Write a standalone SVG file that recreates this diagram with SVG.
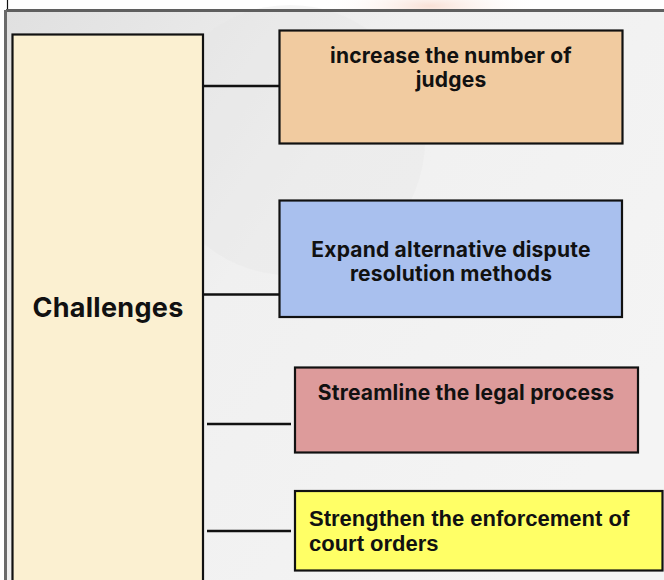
<svg xmlns="http://www.w3.org/2000/svg" width="664" height="580" viewBox="0 0 664 580">
  <defs>
    <linearGradient id="panelShade" x1="0" y1="0" x2="1" y2="0.6">
      <stop offset="0" stop-color="#e0e0e0"/>
      <stop offset="0.45" stop-color="#f0f0f0"/>
      <stop offset="1" stop-color="#f4f4f4"/>
    </linearGradient>
    <radialGradient id="topGlow" cx="0.5" cy="0.5" r="0.5">
      <stop offset="0" stop-color="#f7d9cc" stop-opacity="0.8"/>
      <stop offset="1" stop-color="#ffffff" stop-opacity="0"/>
    </radialGradient>
    <style>
      .box { stroke: #111; stroke-width: 2.2; }
      .link { stroke: #111; stroke-width: 2.5; fill: none; }
      .geo { font-family: Inter, "Noto Sans", "DejaVu Sans", sans-serif; font-weight: 700; fill: #111; text-anchor: middle; font-size: 21px; letter-spacing: 0.2px; }
      .title { font-size: 27px; letter-spacing: 0.3px; }
      .plain { font-family: "Liberation Sans", Arial, sans-serif; font-weight: 700; fill: #111; font-size: 22px; }
    </style>
  </defs>

  <!-- page strip above the panel -->
  <rect x="0" y="0" width="664" height="12" fill="#ffffff"/>
  <ellipse cx="430" cy="6" rx="110" ry="22" fill="url(#topGlow)"/>
  <line x1="7.5" y1="0" x2="7.5" y2="11" stroke="#111" stroke-width="1.2"/>

  <!-- panel -->
  <rect x="6" y="11" width="664" height="575" fill="url(#panelShade)"/>
  <circle cx="290" cy="140" r="135" fill="#e6e6e6" opacity="0.35"/>
  <line x1="6" y1="10.5" x2="664" y2="10.5" stroke="#5f5f5f" stroke-width="3"/>
  <line x1="5.5" y1="10" x2="5.5" y2="580" stroke="#6a6a6a" stroke-width="3"/>

  <!-- connectors -->
  <g id="connectors">
    <line class="link" x1="203" y1="86" x2="290" y2="86"/>
    <line class="link" x1="203" y1="294.5" x2="279" y2="294.5"/>
    <line class="link" x1="207" y1="424" x2="291" y2="424"/>
    <line class="link" x1="207" y1="531" x2="291" y2="531"/>
  </g>

  <g id="challenges">
    <rect class="box" x="12.5" y="34.5" width="190.5" height="560" fill="#fbf0d1"/>
    <text class="geo title" x="108" y="317">Challenges</text>
  </g>

  <g id="judges">
    <rect class="box" x="279.5" y="30.5" width="343" height="113" fill="#f1cba0"/>
    <text class="geo" x="451" y="63">increase the number of</text>
    <text class="geo" x="451" y="87">judges</text>
  </g>

  <g id="adr">
    <rect class="box" x="279.5" y="200.5" width="342.5" height="116.5" fill="#a9c0ee"/>
    <text class="geo" x="451" y="257">Expand alternative dispute</text>
    <text class="geo" x="451" y="281">resolution methods</text>
  </g>

  <g id="streamline">
    <rect class="box" x="295" y="367.5" width="343" height="85" fill="#dd9b9b"/>
    <text class="geo" x="466" y="400">Streamline the legal process</text>
  </g>

  <g id="enforcement">
    <rect class="box" x="295" y="491" width="367.5" height="79.5" fill="#ffff66"/>
    <text class="plain" x="309" y="526">Strengthen the enforcement of</text>
    <text class="plain" x="309" y="551">court orders</text>
  </g>
</svg>
